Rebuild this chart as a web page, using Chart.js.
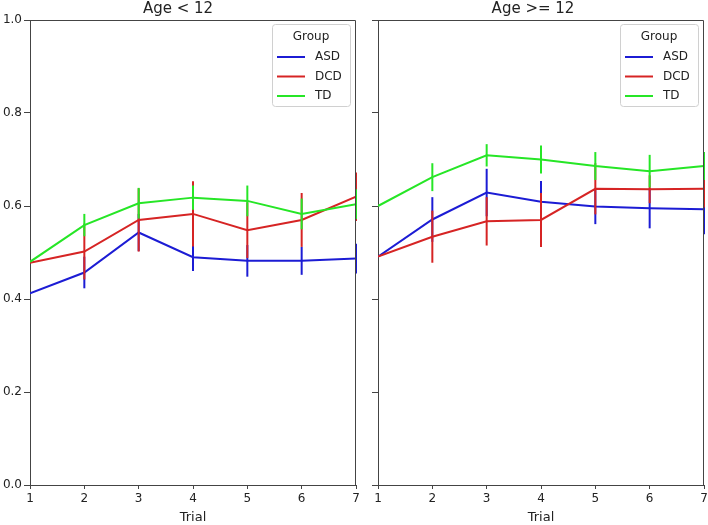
<!DOCTYPE html>
<html>
<head>
<meta charset="utf-8">
<script src="https://cdn.jsdelivr.net/npm/chart.js@4.4.1/dist/chart.umd.min.js"></script>
<style>
  body { margin: 0; background: #fff; }
  canvas { position: absolute; top: 0; }
  #left { left: 0; }
  #right { left: 362px; }
</style>
</head>
<body>
<canvas id="left" width="362" height="525"></canvas>
<canvas id="right" width="346" height="525"></canvas>
<script>
const trials = [1, 2, 3, 4, 5, 6, 7];
const groups = ["ASD", "DCD", "TD"];

// Age < 12
const youngASD = [0.412, 0.457, 0.543, 0.490, 0.482, 0.482, 0.487];
const youngASDErr = [0, 0.034, 0.040, 0.030, 0.034, 0.030, 0.032];
const youngDCD = [0.478, 0.502, 0.570, 0.583, 0.548, 0.570, 0.620];
const youngDCDErr = [0, 0.060, 0.068, 0.070, 0.060, 0.058, 0.052];
const youngTD = [0.480, 0.559, 0.606, 0.618, 0.611, 0.583, 0.604];
const youngTDErr = [0, 0.024, 0.033, 0.026, 0.033, 0.033, 0.032];

// Age >= 12
const olderASD = [0.491, 0.571, 0.629, 0.609, 0.599, 0.595, 0.593];
const olderASDErr = [0, 0.048, 0.051, 0.045, 0.038, 0.043, 0.054];
const olderDCD = [0.491, 0.534, 0.567, 0.570, 0.637, 0.636, 0.637];
const olderDCDErr = [0, 0.056, 0.052, 0.058, 0.055, 0.030, 0.040];
const olderTD = [0.600, 0.662, 0.709, 0.700, 0.686, 0.675, 0.686];
const olderTDErr = [0, 0.030, 0.024, 0.030, 0.030, 0.035, 0.030];

const colors = { ASD: "#1c1cd4", DCD: "#d62424", TD: "#26e626" };
const axisColor = "#444";
const textColor = "#222";

Chart.defaults.font.family = "'DejaVu Sans', sans-serif";
Chart.defaults.color = textColor;

const errorBars = {
  id: "errorBars",
  afterDatasetDraw(chart, args) {
    const ds = chart.data.datasets[args.index];
    if (!ds.errors) return;
    const { ctx, chartArea, scales: { x, y } } = chart;
    ctx.save();
    ctx.beginPath();
    ctx.rect(chartArea.left - 2, chartArea.top, chartArea.width + 4, chartArea.height);
    ctx.clip();
    ctx.strokeStyle = ds.borderColor;
    ctx.lineWidth = 2;
    ds.data.forEach((pt, i) => {
      const err = ds.errors[i];
      if (!err) return;
      const px = x.getPixelForValue(pt.x);
      ctx.beginPath();
      ctx.moveTo(px, y.getPixelForValue(pt.y - err));
      ctx.lineTo(px, y.getPixelForValue(pt.y + err));
      ctx.stroke();
    });
    ctx.restore();
  }
};

// top/right spines + legend box in the upper right corner
const frameAndLegend = {
  id: "frameAndLegend",
  afterDraw(chart) {
    const { ctx, chartArea } = chart;
    ctx.save();
    ctx.strokeStyle = axisColor;
    ctx.lineWidth = 1;
    ctx.beginPath();
    ctx.moveTo(chartArea.left, chartArea.top + 0.5);
    ctx.lineTo(chartArea.right - 0.5, chartArea.top + 0.5);
    ctx.lineTo(chartArea.right - 0.5, chartArea.bottom);
    ctx.stroke();

    const w = 78, h = 82;
    const bx = chartArea.right - 6 - w, by = chartArea.top + 4;
    ctx.fillStyle = "rgba(255,255,255,0.85)";
    ctx.strokeStyle = "#d0d0d0";
    ctx.beginPath();
    ctx.roundRect(bx + 0.5, by + 0.5, w, h, 3);
    ctx.fill();
    ctx.stroke();

    ctx.fillStyle = textColor;
    ctx.font = "12px 'DejaVu Sans', sans-serif";
    ctx.textBaseline = "middle";
    ctx.textAlign = "center";
    ctx.fillText("Group", bx + w / 2, by + 13);
    ctx.textAlign = "left";
    groups.forEach((g, i) => {
      const ly = by + 33 + i * 19.5;
      ctx.strokeStyle = colors[g];
      ctx.lineWidth = 2;
      ctx.beginPath();
      ctx.moveTo(bx + 5, ly);
      ctx.lineTo(bx + 33, ly);
      ctx.stroke();
      ctx.fillText(g, bx + 43, ly);
    });
    ctx.restore();
  }
};

function makeChart(id, title, series, showYLabels, yWidth, padRight) {
  const datasets = groups.map((g, i) => ({
    label: g,
    data: trials.map((t, j) => ({ x: t, y: series[g][j] })),
    errors: series[g + "Err"],
    borderColor: colors[g],
    borderWidth: 2,
    pointRadius: 0,
    tension: 0,
    order: groups.length - i
  }));

  return new Chart(document.getElementById(id), {
    type: "line",
    data: { datasets },
    options: {
      responsive: false,
      animation: false,
      layout: { padding: { left: 0, right: padRight, top: 0, bottom: 0 } },
      plugins: {
        legend: { display: false },
        tooltip: { enabled: false },
        title: {
          display: true,
          text: title,
          color: textColor,
          font: { size: 15, weight: "normal" },
          padding: { top: 0, bottom: 2 }
        }
      },
      scales: {
        x: {
          type: "linear",
          min: 1,
          max: 7,
          afterFit: scale => {
            scale.height = 40;
            scale.paddingLeft = 0;
            scale.paddingRight = 0;
          },
          ticks: { stepSize: 1, padding: 3, color: textColor, font: { size: 12 } },
          grid: { drawOnChartArea: false, drawTicks: true, tickLength: 4, tickColor: axisColor },
          border: { display: true, color: axisColor, width: 1 },
          title: { display: true, text: "Trial", color: textColor, font: { size: 13 }, padding: 0 }
        },
        y: {
          min: 0,
          max: 1,
          afterFit: scale => { scale.width = yWidth; },
          ticks: {
            stepSize: 0.2,
            display: showYLabels,
            padding: 2,
            color: textColor,
            font: { size: 12 },
            callback: v => v.toFixed(1)
          },
          grid: { drawOnChartArea: false, drawTicks: true, tickLength: 6, tickColor: axisColor },
          border: { display: true, color: axisColor, width: 1 }
        }
      }
    },
    plugins: [errorBars, frameAndLegend]
  });
}

makeChart("left", "Age < 12", {
  ASD: youngASD, ASDErr: youngASDErr,
  DCD: youngDCD, DCDErr: youngDCDErr,
  TD: youngTD, TDErr: youngTDErr
}, true, 30, 6);

makeChart("right", "Age >= 12", {
  ASD: olderASD, ASDErr: olderASDErr,
  DCD: olderDCD, DCDErr: olderDCDErr,
  TD: olderTD, TDErr: olderTDErr
}, false, 16, 4);
</script>
</body>
</html>
